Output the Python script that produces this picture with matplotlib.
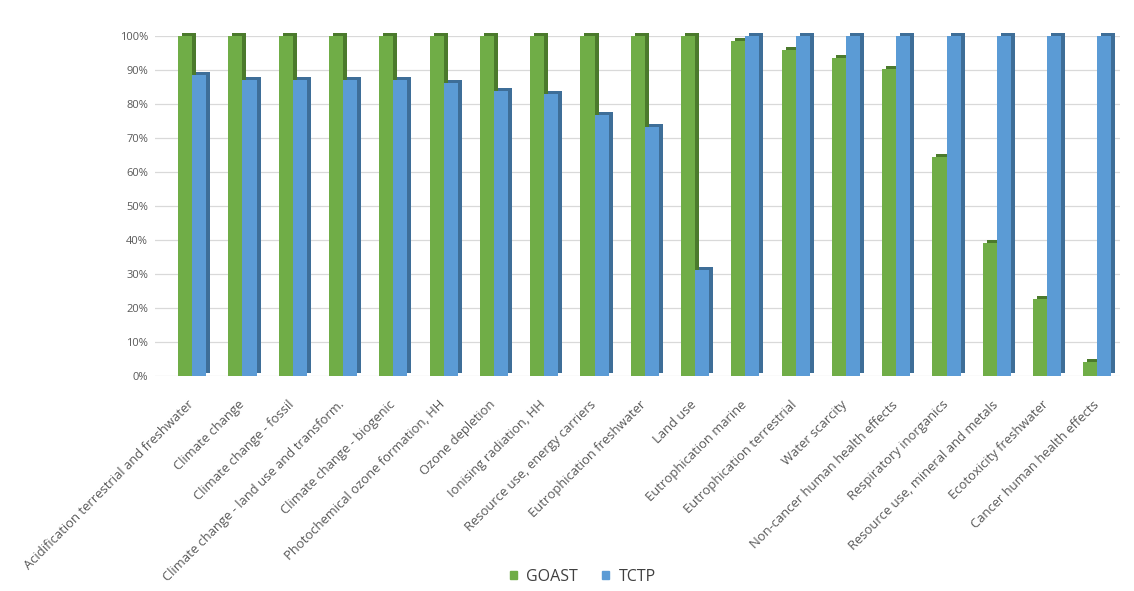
import matplotlib.pyplot as plt
import matplotlib.transforms as mtransforms
from matplotlib.patches import Patch
import numpy as np

categories = [
    "Acidification terrestrial and freshwater", "Climate change",
    "Climate change - fossil", "Climate change - land use and transform.",
    "Climate change - biogenic", "Photochemical ozone formation, HH",
    "Ozone depletion", "Ionising radiation, HH", "Resource use, energy carriers",
    "Eutrophication freshwater", "Land use", "Eutrophication marine",
    "Eutrophication terrestrial", "Water scarcity", "Non-cancer human health effects",
    "Respiratory inorganics", "Resource use, mineral and metals",
    "Ecotoxicity freshwater", "Cancer human health effects",
]
goast = [100, 100, 100, 100, 100, 100, 100, 100, 100, 100, 100,
         98.4, 95.8, 93.5, 90.4, 64.5, 39.2, 22.6, 4.0]
tctp = [88.6, 87.1, 87.1, 87.1, 87.1, 86.2, 83.7, 83.0, 76.9, 73.2, 31.3,
        100, 100, 100, 100, 100, 100, 100, 100]

plt.rcParams["font.family"] = ["Open Sans", "DejaVu Sans"]

fig = plt.figure(figsize=(11.34, 5.91), dpi=100)
ax = fig.add_axes([155 / 1134, 1 - 376 / 591, (1120 - 155) / 1134, 340 / 591])

x = np.arange(len(categories))
w = 0.28
green, green_dk = "#70AD47", "#4B7A2C"
blue, blue_dk = "#5B9BD5", "#3E6E98"

# fake 3D: a darker copy shifted right/up behind each bar
shift = mtransforms.offset_copy(ax.transData, fig=fig, x=4, y=3, units="dots")
ax.bar(x - w / 2, goast, w, color=green_dk, transform=shift, zorder=2, linewidth=0, clip_on=False)
ax.bar(x - w / 2, goast, w, color=green, zorder=3, linewidth=0, clip_on=False)
ax.bar(x + w / 2, tctp, w, color=blue_dk, transform=shift, zorder=4, linewidth=0, clip_on=False)
ax.bar(x + w / 2, tctp, w, color=blue, zorder=5, linewidth=0, clip_on=False)

ax.set_xlim(-0.74, 18.45)
ax.set_ylim(0, 100)
ax.set_yticks(np.arange(0, 101, 10))
ax.set_yticklabels([f"{v}%" for v in range(0, 101, 10)])
ax.grid(axis="y", color="#D9D9D9", linewidth=0.9, zorder=0)
ax.set_axisbelow(True)
for s in ax.spines.values():
    s.set_visible(False)
ax.tick_params(axis="y", length=0, pad=5, labelsize=8, labelcolor="#595959")
ax.tick_params(axis="x", length=0, pad=16, labelsize=9.4, labelcolor="#595959")

ax.set_xticks(x)
ax.set_xticklabels(categories, rotation=45, ha="right", va="top", rotation_mode="anchor")
off = mtransforms.ScaledTranslation(-5 / 100, 0, fig.dpi_scale_trans)
for lbl in ax.get_xticklabels():
    lbl.set_transform(lbl.get_transform() + off)

handles = [Patch(color=green, label="GOAST"), Patch(color=blue, label="TCTP")]
fig.legend(handles=handles, loc="center", bbox_to_anchor=(0.514, 0.024), ncol=2,
           frameon=False, fontsize=11.5, handlelength=0.45, handleheight=0.45,
           handletextpad=0.6, columnspacing=1.5, labelcolor="#404040")

fig.savefig("out.png", dpi=100)
